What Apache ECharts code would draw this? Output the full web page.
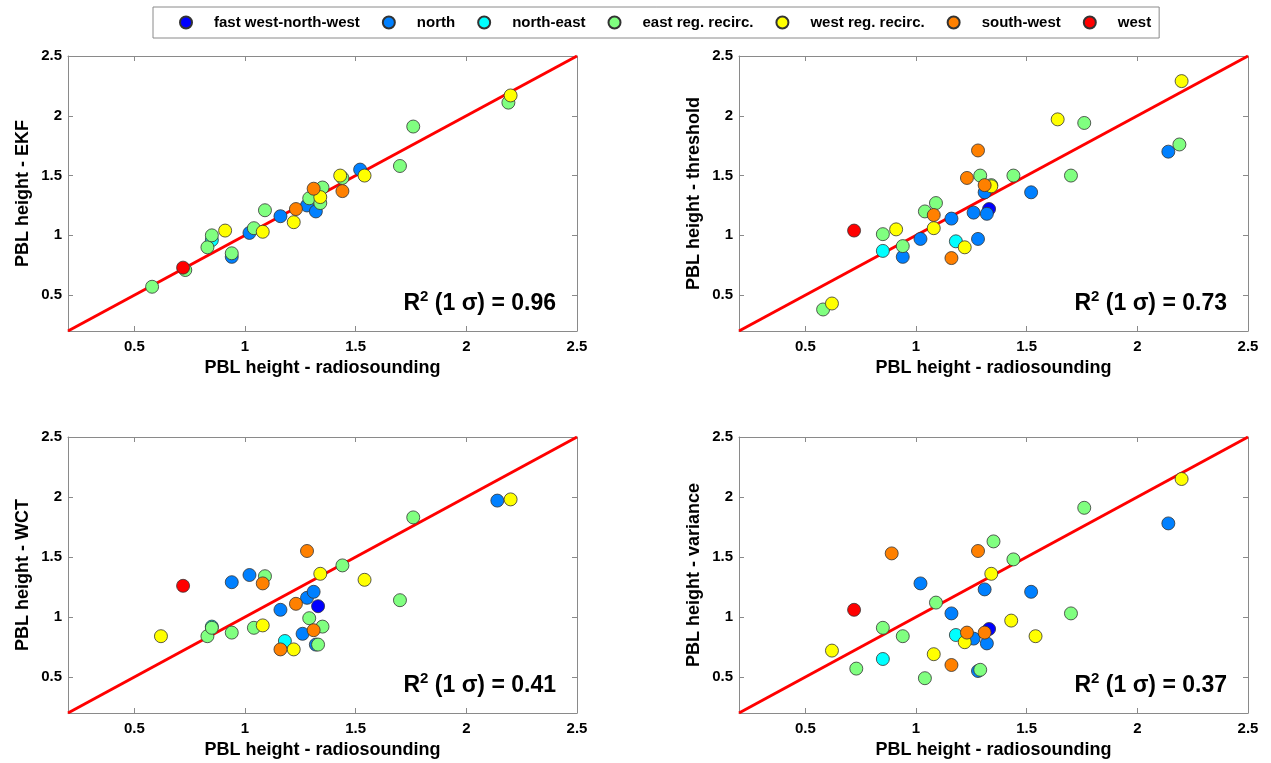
<!DOCTYPE html>
<html>
<head>
<meta charset="utf-8">
<script src="https://cdn.jsdelivr.net/npm/echarts@6/dist/echarts.min.js"></script>
<style>
  html, body { margin: 0; padding: 0; background: #fff; }
  #chart { width: 1271px; height: 763px; }
</style>
</head>
<body>
<div id="chart"></div>
<script>
// ---- data ----
const categories = ['fast west-north-west', 'north', 'north-east', 'east reg. recirc.', 'west reg. recirc.', 'south-west', 'west'];
const catColors = ['#0000ff', '#0080ff', '#00ffff', '#80ff80', '#ffff00', '#ff8000', '#ff0000'];
const tickValues = [0.5, 1, 1.5, 2, 2.5];
const xTitle = 'PBL height - radiosounding';
const yTitles = ['PBL height - EKF', 'PBL height - threshold', 'PBL height - WCT', 'PBL height - variance'];
const r2Values = ['0.96', '0.73', '0.41', '0.37'];

// rows: [radiosounding, method, category index]
const ekfPoints = [
  [0.94, 0.82, 1], [1.02, 1.02, 1], [1.16, 1.16, 1], [1.28, 1.25, 1], [1.32, 1.20, 1], [1.52, 1.55, 1],
  [0.85, 0.96, 2],
  [0.58, 0.57, 3], [0.73, 0.71, 3], [0.83, 0.90, 3], [0.85, 1.00, 3], [0.94, 0.85, 3], [1.04, 1.06, 3],
  [1.09, 1.21, 3], [1.29, 1.31, 3], [1.34, 1.27, 3], [1.35, 1.40, 3], [1.44, 1.48, 3], [1.70, 1.58, 3],
  [1.76, 1.91, 3], [2.19, 2.11, 3],
  [0.91, 1.04, 4], [1.08, 1.03, 4], [1.22, 1.11, 4], [1.34, 1.32, 4], [1.43, 1.50, 4], [1.54, 1.50, 4], [2.20, 2.17, 4],
  [1.23, 1.22, 5], [1.31, 1.39, 5], [1.44, 1.37, 5],
  [0.72, 0.73, 6]
];
const thresholdPoints = [
  [1.33, 1.22, 0],
  [0.94, 0.82, 1], [1.02, 0.97, 1], [1.16, 1.14, 1], [1.26, 1.19, 1], [1.28, 0.97, 1], [1.31, 1.36, 1],
  [1.32, 1.18, 1], [1.52, 1.36, 1], [2.14, 1.70, 1],
  [0.85, 0.87, 2], [1.18, 0.95, 2],
  [0.58, 0.38, 3], [0.85, 1.01, 3], [0.94, 0.91, 3], [1.04, 1.20, 3], [1.09, 1.27, 3], [1.29, 1.50, 3],
  [1.34, 1.42, 3], [1.44, 1.50, 3], [1.70, 1.50, 3], [1.76, 1.94, 3], [2.19, 1.76, 3],
  [0.62, 0.43, 4], [0.91, 1.05, 4], [1.08, 1.06, 4], [1.22, 0.90, 4], [1.34, 1.41, 4], [1.64, 1.97, 4], [2.20, 2.29, 4],
  [1.08, 1.17, 5], [1.16, 0.81, 5], [1.23, 1.48, 5], [1.28, 1.71, 5], [1.31, 1.42, 5],
  [0.72, 1.04, 6]
];
const wctPoints = [
  [1.33, 1.09, 0],
  [0.94, 1.29, 1], [1.02, 1.35, 1], [1.16, 1.06, 1], [1.26, 0.86, 1], [1.28, 1.16, 1], [1.31, 1.21, 1],
  [1.32, 0.77, 1], [2.14, 1.97, 1],
  [0.85, 0.92, 2], [1.18, 0.80, 2],
  [0.83, 0.84, 3], [0.85, 0.91, 3], [0.94, 0.87, 3], [1.04, 0.91, 3], [1.09, 1.34, 3], [1.29, 0.99, 3],
  [1.33, 0.77, 3], [1.35, 0.92, 3], [1.44, 1.43, 3], [1.70, 1.14, 3], [1.76, 1.83, 3],
  [0.62, 0.84, 4], [1.08, 0.93, 4], [1.22, 0.73, 4], [1.34, 1.36, 4], [1.54, 1.31, 4], [2.20, 1.98, 4],
  [1.08, 1.28, 5], [1.16, 0.73, 5], [1.23, 1.11, 5], [1.28, 1.55, 5], [1.31, 0.89, 5],
  [0.72, 1.26, 6]
];
const variancePoints = [
  [1.33, 0.90, 0],
  [1.02, 1.28, 1], [1.16, 1.03, 1], [1.26, 0.82, 1], [1.28, 0.55, 1], [1.31, 1.23, 1], [1.32, 0.78, 1],
  [1.52, 1.21, 1], [2.14, 1.78, 1],
  [0.85, 0.65, 2], [1.18, 0.85, 2],
  [0.73, 0.57, 3], [0.85, 0.91, 3], [0.94, 0.84, 3], [1.04, 0.49, 3], [1.09, 1.12, 3], [1.29, 0.56, 3],
  [1.35, 1.63, 3], [1.44, 1.48, 3], [1.70, 1.03, 3], [1.76, 1.91, 3],
  [0.62, 0.72, 4], [1.08, 0.69, 4], [1.22, 0.79, 4], [1.34, 1.36, 4], [1.43, 0.97, 4], [1.54, 0.84, 4], [2.20, 2.15, 4],
  [0.89, 1.53, 5], [1.16, 0.60, 5], [1.23, 0.87, 5], [1.28, 1.55, 5], [1.31, 0.87, 5],
  [0.72, 1.06, 6]
];
const oneToOne = [[0.2, 0.2], [2.5, 2.5]];

// ---- layout ----
const panels = [ekfPoints, thresholdPoints, wctPoints, variancePoints];
const gridBoxes = [
  { left: 68, top: 56, width: 509, height: 275 },
  { left: 739, top: 56, width: 509, height: 275 },
  { left: 68, top: 437, width: 509, height: 276 },
  { left: 739, top: 437, width: 509, height: 276 }
];
const FONT = '"Liberation Sans", Arial, Helvetica, sans-serif';
const frameColor = '#8a8a8a';

const grid = [], xAxis = [], yAxis = [], series = [], graphic = [];
gridBoxes.forEach((g, p) => {
  grid.push({ left: g.left, top: g.top, width: g.width, height: g.height, containLabel: false });
  const tick = { show: true, inside: true, length: 5, customValues: tickValues, lineStyle: { color: frameColor, width: 1 } };
  const line = { show: true, onZero: false, lineStyle: { color: frameColor, width: 1 } };
  const label = {
    show: true, customValues: tickValues, formatter: v => String(v),
    fontFamily: FONT, fontWeight: 'bold', fontSize: 15, color: '#000'
  };
  xAxis.push({
    gridIndex: p, type: 'value', min: 0.2, max: 2.5, position: 'bottom',
    name: xTitle, nameLocation: 'middle', nameGap: 28,
    nameTextStyle: { fontFamily: FONT, fontWeight: 'bold', fontSize: 18, color: '#000' },
    axisLine: line, axisTick: tick, axisLabel: Object.assign({ margin: 8 }, label),
    splitLine: { show: false }
  });
  xAxis.push({
    gridIndex: p, type: 'value', min: 0.2, max: 2.5, position: 'top',
    axisLine: line, axisTick: tick, axisLabel: { show: false }, splitLine: { show: false }
  });
  yAxis.push({
    gridIndex: p, type: 'value', min: 0.2, max: 2.5, position: 'left',
    name: yTitles[p], nameLocation: 'middle', nameGap: 36,
    nameTextStyle: { fontFamily: FONT, fontWeight: 'bold', fontSize: 18, color: '#000' },
    axisLine: line, axisTick: tick, axisLabel: Object.assign({ margin: 6 }, label),
    splitLine: { show: false }
  });
  yAxis.push({
    gridIndex: p, type: 'value', min: 0.2, max: 2.5, position: 'right',
    axisLine: line, axisTick: tick, axisLabel: { show: false }, splitLine: { show: false }
  });

  series.push({
    type: 'line', xAxisIndex: 2 * p, yAxisIndex: 2 * p, data: oneToOne,
    symbol: 'none', silent: true, z: 1,
    lineStyle: { color: '#ff0000', width: 3 }
  });
  categories.forEach((name, c) => {
    series.push({
      type: 'scatter', name: name, xAxisIndex: 2 * p, yAxisIndex: 2 * p, z: 2,
      symbol: 'circle', symbolSize: 13,
      itemStyle: { color: catColors[c], borderColor: '#333', borderWidth: 0.8, opacity: 1 },
      data: panels[p].filter(r => r[2] === c).map(r => [r[0], r[1]])
    });
  });

  graphic.push({
    type: 'text', z: 100,
    x: g.left + g.width - 21, y: g.top + g.height - 12,
    style: {
      text: '{r|R}{s|2}{r| (1 σ) = ' + r2Values[p] + '}',
      align: 'right', verticalAlign: 'bottom',
      rich: {
        r: { fontFamily: FONT, fontWeight: 'bold', fontSize: 23, lineHeight: 30, fill: '#000' },
        s: { fontFamily: FONT, fontWeight: 'bold', fontSize: 15, lineHeight: 18, fill: '#000', verticalAlign: 'top' }
      }
    }
  });
});

const chart = echarts.init(document.getElementById('chart'), null, { renderer: 'canvas' });
chart.setOption({
  backgroundColor: '#fff',
  animation: false,
  legend: {
    data: categories, left: 153, top: 7, orient: 'horizontal',
    padding: [8, 8, 8, 26], itemWidth: 12, itemHeight: 12, itemGap: 22,
    icon: 'circle', borderColor: '#8a8a8a', borderWidth: 1, backgroundColor: '#fff',
    textStyle: { fontFamily: FONT, fontWeight: 'bold', fontSize: 15, color: '#000', padding: [0, 0, 0, 17] }
  },
  grid, xAxis, yAxis, series, graphic
});
</script>
</body>
</html>
